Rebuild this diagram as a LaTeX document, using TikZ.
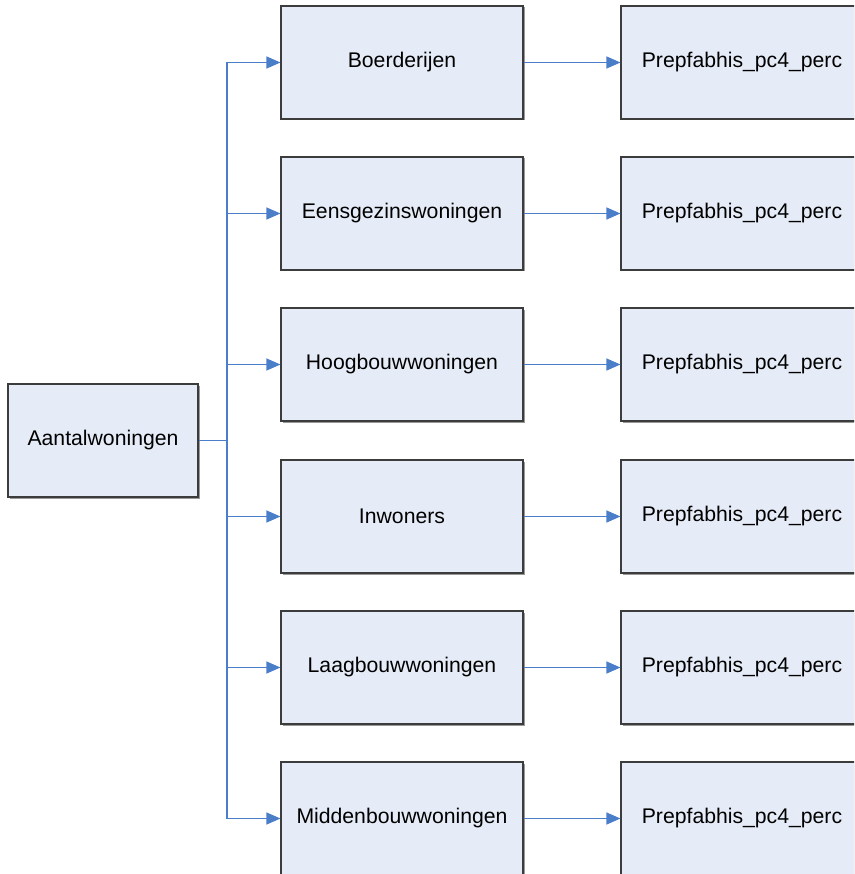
\documentclass[tikz,border=0pt]{standalone}
\usepackage{fontspec}
\setmainfont{Liberation Sans}
\usetikzlibrary{arrows.meta,shadows}
\definecolor{boxfill}{HTML}{E6ECF7}
\definecolor{boxline}{HTML}{3C3C3C}
\definecolor{link}{HTML}{4A7EC8}
\tikzset{
  box/.style={draw=boxline, line width=1.1pt, fill=boxfill,
    minimum width=#1, minimum height=113pt, inner sep=0pt,
    font=\fontsize{21.2}{25}\selectfont,
    drop shadow={shadow xshift=1.5pt, shadow yshift=-1.5pt, fill=gray!80, opacity=1}},
  box/.default=242pt,
  link/.style={draw=link, line width=1.1pt, -{Triangle[length=14pt,width=12pt]}},
  trunk/.style={draw=link, line width=1.1pt}
}
\begin{document}
\begin{tikzpicture}[x=1pt,y=-1pt]
\useasboundingbox (0,0) rectangle (854,874);
\begin{scope}
\clip (0,0) rectangle (854,874);
\node[box=190pt] (root) at (103,440.5) {Aantalwoningen};
\coordinate (j) at (227,440.5);
\foreach \name/\txt/\y in {
  b1/Boerderijen/62.5,
  b2/Eensgezinswoningen/213.5,
  b3/Hoogbouwwoningen/364.5,
  b4/Inwoners/516.5,
  b5/Laagbouwwoningen/667.5,
  b6/Middenbouwwoningen/818.5} {
  \node[box] (\name) at (402,\y) {\txt};
  \node[box] (p\name) at (742,\y) {Prepfabhis\_pc4\_perc};
  \draw[link] (\name.east) -- (p\name.west);
  \draw[link] (j |- \name.west) -- (\name.west);
}
\draw[trunk] (root.east) -- (j);
\draw[trunk] (j |- b1.west) -- (j |- b6.west);
\end{scope}
\end{tikzpicture}
\end{document}
